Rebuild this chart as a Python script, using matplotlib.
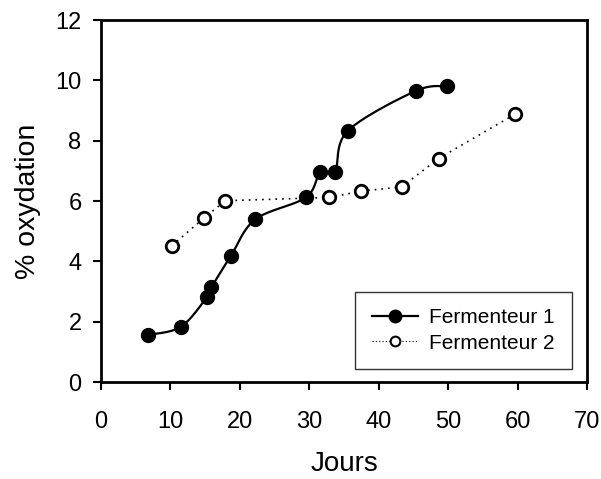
import numpy as np
import matplotlib
matplotlib.use("Agg")
import matplotlib.pyplot as plt

plt.rcParams['font.family'] = ['Liberation Sans', 'DejaVu Sans']

# Data
f1_days = [6.7, 11.5, 15.3, 15.9, 18.7, 22.2, 29.5, 31.6, 33.7, 35.5, 45.3, 49.8]
f1_ox = [1.56, 1.83, 2.83, 3.14, 4.18, 5.39, 6.12, 6.97, 6.97, 8.32, 9.65, 9.81]
f2_days = [10.2, 14.9, 17.9, 32.9, 37.5, 43.3, 48.6, 59.6]
f2_ox = [4.52, 5.45, 6.01, 6.12, 6.33, 6.47, 7.41, 8.88]
x_ticks = [0, 10, 20, 30, 40, 50, 60, 70]
y_ticks = [0, 2, 4, 6, 8, 10, 12]
labels = ["Fermenteur 1", "Fermenteur 2"]


def catmull_rom(xs, ys, n=30):
    P = np.column_stack([xs, ys])
    P = np.vstack([P[0], P, P[-1]])
    out = []
    for i in range(1, len(P) - 2):
        p0, p1, p2, p3 = P[i - 1], P[i], P[i + 1], P[i + 2]
        t = np.linspace(0, 1, n)[:, None]
        seg = 0.5 * ((2 * p1) + (-p0 + p2) * t + (2 * p0 - 5 * p1 + 4 * p2 - p3) * t ** 2
                     + (-p0 + 3 * p1 - 3 * p2 + p3) * t ** 3)
        out.append(seg)
    S = np.vstack(out)
    return S[:, 0], S[:, 1]


fig = plt.figure(figsize=(6.01, 4.79), dpi=100)
ax = fig.add_axes([0.168, 0.2025, 0.809, 0.7555])

sx, sy = catmull_rom(f1_days, f1_ox)
ax.plot(sx, sy, color='black', lw=1.6, zorder=2)
ax.plot(f1_days, f1_ox, linestyle='none', marker='o', ms=10, color='black', zorder=3)
ax.plot(f2_days, f2_ox, linestyle=(0, (1, 3)), lw=1.2, color='black', marker='o', ms=9,
        mfc='white', mec='black', mew=2, zorder=3)

h1 = plt.Line2D([], [], color='black', lw=1.6, marker='o', ms=9)
h2 = plt.Line2D([], [], color='black', lw=0.8, linestyle=(0, (1, 2)), marker='o', ms=7,
                mfc='white', mec='black', mew=1.5)
leg = ax.legend([h1, h2], labels, loc='lower right', bbox_to_anchor=(0.968, 0.035),
                fontsize=15, frameon=True, fancybox=False, edgecolor='black',
                handlelength=2.2, handletextpad=0.55, borderpad=0.8, labelspacing=0.3,
                borderaxespad=0)
leg.get_frame().set_linewidth(1.0)

ax.set_xlim(0, 70)
ax.set_ylim(0, 12)
ax.set_xticks(x_ticks)
ax.set_yticks(y_ticks)
ax.tick_params(direction='out', length=6, width=1.5, labelsize=17)
ax.tick_params(axis='x', pad=15)
ax.tick_params(axis='y', pad=8)
for s in ax.spines.values():
    s.set_linewidth(2)
ax.set_xlabel('Jours', fontsize=20, labelpad=13)
ax.set_ylabel('% oxydation', fontsize=20.5, labelpad=10)

fig.savefig('out.png', dpi=100)
